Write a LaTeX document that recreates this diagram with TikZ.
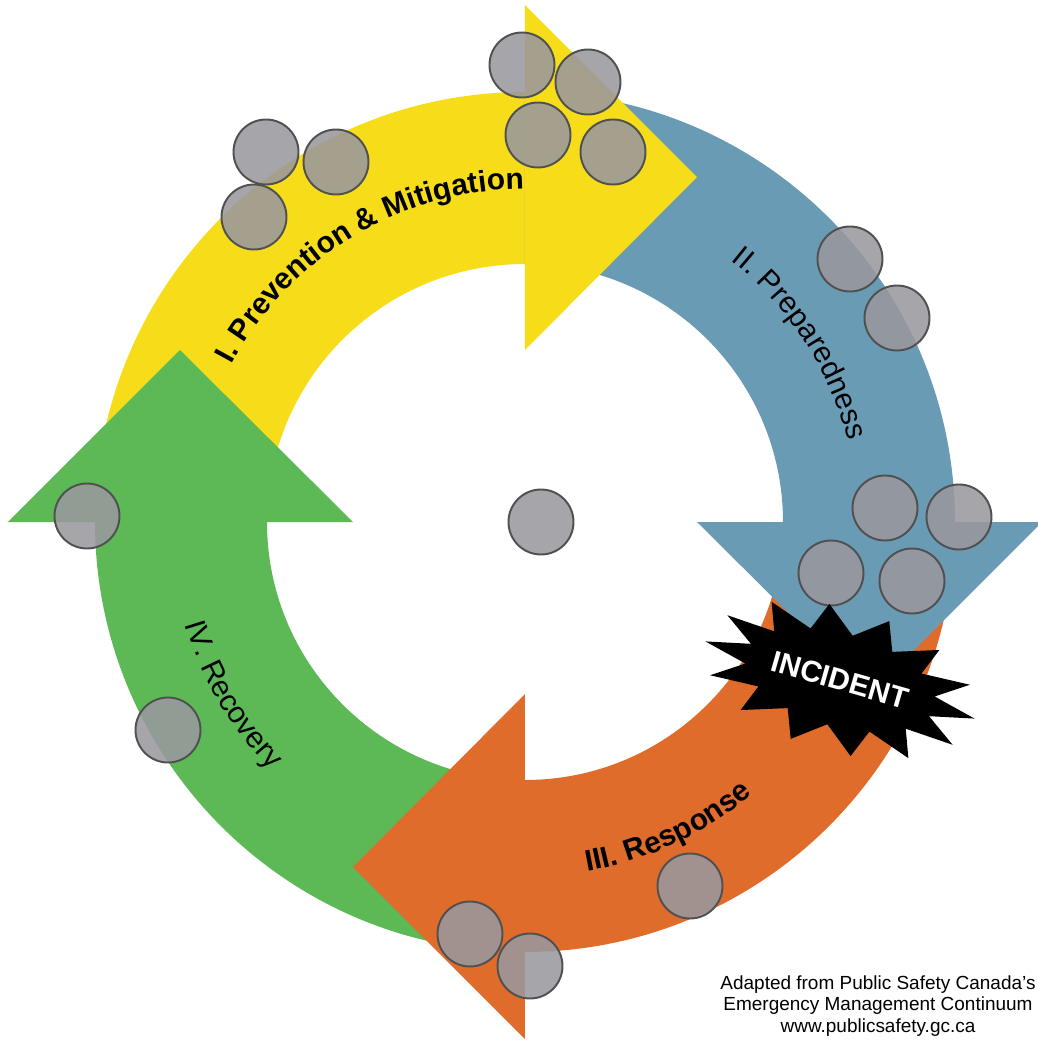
\documentclass[tikz,border=0pt]{standalone}
\usepackage{fontspec}
\setsansfont{Liberation Sans}
\usetikzlibrary{decorations.text}
\definecolor{prevc}{RGB}{247,221,25}
\definecolor{prepc}{RGB}{106,155,181}
\definecolor{respc}{RGB}{224,108,44}
\definecolor{recc}{RGB}{92,185,85}
\definecolor{dotc}{RGB}{153,152,158}
\definecolor{dotline}{RGB}{80,80,80}
\newcommand{\phasebf}{\fontsize{8.5}{10}\selectfont\sffamily\bfseries}
\newcommand{\phasemd}{\fontsize{8.5}{10}\selectfont\sffamily}

\begin{document}
\begin{tikzpicture}[x=0.1mm,y=0.1mm,
    dot/.style={fill=dotc,fill opacity=0.88,draw=dotline,line width=0.55pt},
    phase/.style={decorate,decoration={text along path,text align=center,text={#1}}}]
    \useasboundingbox (-525,-521) rectangle (512,522);
    \foreach \a/\col in {180/prevc,90/prepc,0/respc,-90/recc}
        \fill[\col] (\a:430) arc[start angle=\a,end angle=\a-90,radius=430]
            -- ({\a-90}:258) arc[start angle=\a-90,end angle=\a,radius=258] -- cycle;
    \foreach \r/\col in {0/prevc,-90/prepc,-180/respc,-270/recc}
        \fill[\col,rotate=\r] (0,172) -- (0,517) -- (172,345) -- cycle;
    \foreach \x/\y in {-259/370,-189/360,-271/305,-3/457,63/440,13/387,88/370,
            325/263,372/204,360/14,434/5,306/-51,387/-59,16/0,-438/6,-357/-208,
            165/-364,-55/-412,5/-444}
        \draw[dot] (\x,\y) circle[radius=32.5];
    \fill[black,shift={(315,-158)},rotate=-16] (0:140 and 72)
        \foreach \k in {0,...,13} { -- ({(\k+0.5)*360/14}:98 and 46) -- ({(\k+1)*360/14}:140 and 72) } -- cycle;
    \node[text=white,font=\phasebf,rotate=-16] (incident) at (315,-158) {INCIDENT};
    \path[phase={|\phasebf|I. Prevention {\&} Mitigation}] (175:333) arc[start angle=175,end angle=67,radius=333];
    \path[phase={|\phasemd|II. Preparedness}] (80:333) arc[start angle=80,end angle=-14,radius=333];
    \path[phase={|\phasebf|III. Response}] (-110:355) arc[start angle=-110,end angle=-20,radius=355];
    \path[phase={|\phasemd|IV. Recovery}] (165:355) arc[start angle=165,end angle=256,radius=355];
    \node[font=\fontsize{5.4}{6.1}\selectfont\sffamily,align=center] (credit) at (353,-484)
        {Adapted from Public Safety Canada’s\\Emergency Management Continuum\\www.publicsafety.gc.ca};
\end{tikzpicture}
\end{document}
